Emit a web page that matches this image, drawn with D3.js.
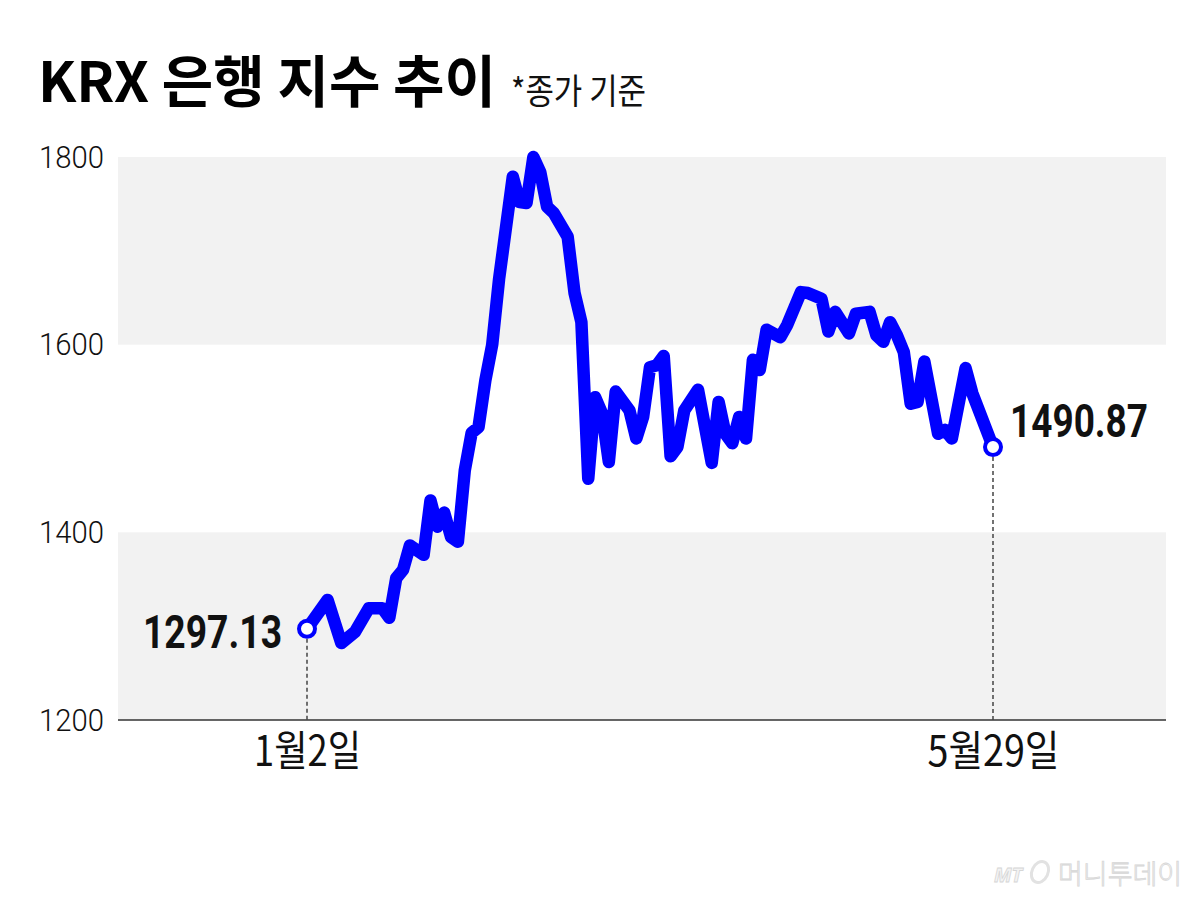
<!DOCTYPE html>
<html>
<head>
<meta charset="utf-8">
<script src="https://cdn.jsdelivr.net/npm/d3@7"></script>
<style>
  html, body { margin: 0; padding: 0; background: #fff; }
  svg { display: block; }
</style>
</head>
<body>
<div id="chart"></div>
<script>
// trading day index (0 = 1월2일, 100 = 5월29일) and closing values
var days = [0, 3, 5, 7, 9, 11, 12, 13, 14, 15, 17, 18, 19, 20, 21, 22, 23, 24, 25, 26,
  27, 28, 30, 31, 32, 33, 34, 35, 36, 38, 39, 40, 41, 42, 43, 44, 45, 47, 48, 49,
  50, 51, 52, 53, 54, 55, 57, 59, 60, 61, 62, 63, 64, 65, 66, 67, 69, 70, 72, 73,
  75, 76, 77, 79, 80, 82, 83, 84, 85, 86, 87, 88, 89, 90, 92, 93, 94, 96, 97, 100];
var values = [1297.13, 1328, 1282, 1294, 1319, 1319, 1309, 1351, 1360, 1386, 1376, 1434, 1406, 1421, 1395, 1390, 1466, 1506, 1512, 1562,
  1600, 1670, 1779, 1752, 1751, 1800, 1784, 1747, 1740, 1715, 1655, 1624, 1457, 1544, 1527, 1475, 1550, 1530, 1500, 1523,
  1576, 1578, 1588, 1481, 1491, 1530, 1552, 1474, 1539, 1505, 1495, 1523, 1500, 1584, 1573, 1616, 1608, 1621, 1656, 1655,
  1649, 1614, 1635, 1612, 1633, 1635, 1610, 1603, 1624, 1610, 1592, 1537, 1539, 1582, 1505, 1509, 1500, 1575, 1548, 1490.87];

var yTicks = [1200, 1400, 1600, 1800];
var bands = [[1200, 1400], [1600, 1800]];
var xLabels = ["1월2일", "5월29일"];
var firstLabel = "1297.13", lastLabel = "1490.87";

var W = 1204, H = 898;
var blue = "#0000ff";

var svg = d3.select("#chart").append("svg")
  .attr("width", W).attr("height", H);

var x = d3.scaleLinear().domain([0, 100]).range([307, 993]);
var y = d3.scaleLinear().domain([1200, 1800]).range([720, 157]);
var plotLeft = 118, plotRight = 1166;

// gray bands
svg.selectAll("rect.band")
  .data(bands)
  .enter().append("rect")
  .attr("class", "band")
  .attr("x", plotLeft)
  .attr("width", plotRight - plotLeft)
  .attr("y", function (d) { return y(d[1]); })
  .attr("height", function (d) { return y(d[0]) - y(d[1]); })
  .attr("fill", "#f2f2f2");

// y axis labels
var yAxis = d3.axisLeft(y).tickValues(yTicks).tickFormat(d3.format("d"))
  .tickSize(0).tickPadding(0);
var gy = svg.append("g").attr("transform", "translate(104,0)").call(yAxis);
gy.select(".domain").remove();
gy.selectAll("text")
  .attr("font-family", "Roboto, 'Noto Sans', sans-serif")
  .attr("font-size", 32)
  .attr("font-weight", 300)
  .attr("fill", "#111")
  .attr("textLength", 65)
  .attr("lengthAdjust", "spacingAndGlyphs");

// x baseline
svg.append("line")
  .attr("x1", plotLeft).attr("x2", plotRight)
  .attr("y1", y(1200)).attr("y2", y(1200))
  .attr("stroke", "#333").attr("stroke-width", 1.6);

// dashed guides to first & last points
var ends = [0, days.length - 1];
svg.selectAll("line.guide")
  .data(ends)
  .enter().append("line")
  .attr("class", "guide")
  .attr("x1", function (i) { return x(days[i]); })
  .attr("x2", function (i) { return x(days[i]); })
  .attr("y1", function (i) { return y(values[i]) + 10; })
  .attr("y2", y(1200))
  .attr("stroke", "#444")
  .attr("stroke-width", 1.5)
  .attr("stroke-dasharray", "4,3");

// x labels
var xAxis = d3.axisBottom(x)
  .tickValues([days[0], days[days.length - 1]])
  .tickFormat(function (d, i) { return xLabels[i]; })
  .tickSize(0).tickPadding(16);
var gx = svg.append("g").attr("transform", "translate(0," + y(1200) + ")").call(xAxis);
gx.select(".domain").remove();
gx.selectAll("text")
  .attr("font-family", "'Noto Sans CJK KR', sans-serif")
  .attr("font-size", 42)
  .attr("font-weight", 400)
  .attr("fill", "#111")
  .attr("textLength", function (d, i) { return i === 0 ? 107 : 132; })
  .attr("lengthAdjust", "spacingAndGlyphs");

// line
var line = d3.line()
  .x(function (d, i) { return x(days[i]); })
  .y(function (d) { return y(d); });

svg.append("path")
  .datum(values)
  .attr("d", line)
  .attr("fill", "none")
  .attr("stroke", blue)
  .attr("stroke-width", 12.5)
  .attr("stroke-linejoin", "round")
  .attr("stroke-linecap", "round");

// end circles
svg.selectAll("circle.end")
  .data(ends)
  .enter().append("circle")
  .attr("class", "end")
  .attr("cx", function (i) { return x(days[i]); })
  .attr("cy", function (i) { return y(values[i]); })
  .attr("r", 8)
  .attr("fill", "#fff")
  .attr("stroke", blue)
  .attr("stroke-width", 4);

// value labels
svg.append("text")
  .attr("x", 282).attr("y", y(values[0]) + 19)
  .attr("text-anchor", "end")
  .attr("font-family", "Roboto, sans-serif")
  .attr("font-weight", 700)
  .attr("font-size", 46)
  .attr("fill", "#111")
  .attr("textLength", 139)
  .attr("lengthAdjust", "spacingAndGlyphs")
  .text(firstLabel);

svg.append("text")
  .attr("x", 1010).attr("y", y(values[values.length - 1]) - 10)
  .attr("font-family", "Roboto, sans-serif")
  .attr("font-weight", 700)
  .attr("font-size", 46)
  .attr("fill", "#111")
  .attr("textLength", 138)
  .attr("lengthAdjust", "spacingAndGlyphs")
  .text(lastLabel);

// title
svg.append("text")
  .attr("x", 38).attr("y", 102)
  .attr("font-family", "'Noto Sans CJK KR', sans-serif")
  .attr("font-weight", 700)
  .attr("font-size", 56)
  .attr("fill", "#000")
  .attr("textLength", 458)
  .attr("lengthAdjust", "spacingAndGlyphs")
  .text("KRX 은행 지수 추이");

svg.append("text")
  .attr("x", 511).attr("y", 104)
  .attr("font-family", "'Noto Sans CJK KR', sans-serif")
  .attr("font-weight", 400)
  .attr("font-size", 35)
  .attr("fill", "#111")
  .attr("textLength", 135)
  .attr("lengthAdjust", "spacingAndGlyphs")
  .text("*종가 기준");

// watermark
var wm = svg.append("g").attr("fill", "#f3f3f3").attr("stroke", "#d6d6d6").attr("stroke-width", 0.8);
wm.append("text")
  .attr("x", 994).attr("y", 882)
  .attr("font-family", "'Noto Sans', sans-serif")
  .attr("font-style", "italic")
  .attr("font-weight", 700)
  .attr("font-size", 20)
  .text("MT");
wm.append("ellipse")
  .attr("cx", 1040).attr("cy", 872).attr("rx", 8).attr("ry", 11)
  .attr("transform", "rotate(25,1040,872)")
  .attr("fill", "none").attr("stroke-width", 3).attr("stroke", "#e2e2e2");
wm.append("text")
  .attr("x", 1058).attr("y", 884)
  .attr("font-family", "'Noto Sans CJK KR', sans-serif")
  .attr("font-weight", 300)
  .attr("font-size", 27)
  .text("머니투데이");
</script>
</body>
</html>
